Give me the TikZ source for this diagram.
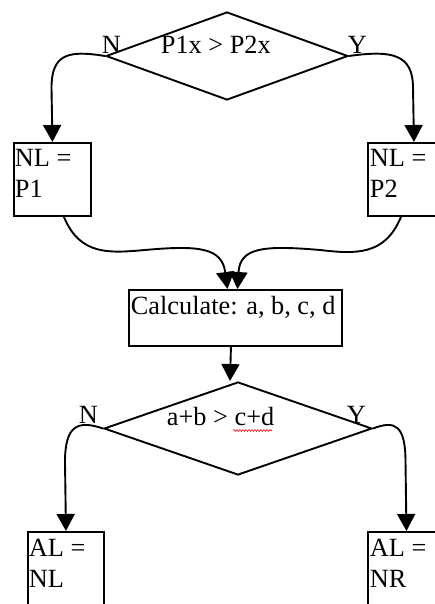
\documentclass[tikz,border=0pt]{standalone}
\usepackage{fontspec}
\setmainfont{Liberation Serif}
\usetikzlibrary{arrows.meta,shapes.geometric,decorations.pathmorphing}
\begin{document}
\begin{tikzpicture}[x=1pt,y=-1pt,
  line width=1.9pt,
  txt/.style={font=\fontsize{26.3}{31}\selectfont, inner sep=0pt, align=left},
  decision/.style={diamond, draw, inner sep=0pt},
  procbox/.style={rectangle, draw, inner sep=0pt, anchor=north west},
  arr/.style={-{Triangle[length=17pt,width=18pt]}},
  spell/.style={red, line width=0.6pt, decorate,
    decoration={snake, amplitude=0.9pt, segment length=3pt}}
]
\useasboundingbox (0,0) rectangle (435,604);
\clip (0,0) rectangle (435,604);

% first decision
\node[decision, minimum width=242pt, minimum height=88pt] (d1) at (227,56) {};
\node[txt, anchor=base west] (q1) at (160,54) {P1x > P2x};
\node[txt, anchor=base west] (n1) at (101,54) {N};
\node[txt, anchor=base west] (y1) at (347,54) {Y};

% NL assignments
\node[procbox, minimum width=77pt, minimum height=73pt] (b1) at (13,142) {};
\node[txt, anchor=north west] (t1) at (14,148.5) {NL =\\P1};
\node[procbox, minimum width=92pt, minimum height=73pt] (b2) at (367,142) {};
\node[txt, anchor=north west] (t2) at (369,148.5) {NL =\\P2};

% calculation step
\node[procbox, minimum width=213pt, minimum height=56pt] (calc) at (128,289) {};
\node[txt, anchor=north west] (tc) at (130,295) {Calculate: a, b, c, d};

% second decision
\node[decision, minimum width=268pt, minimum height=93pt] (d2) at (238,428.5) {};
\node[txt, anchor=base west] (q2) at (166,425) {a+b > c+d};
\node[txt, anchor=base west] (n2) at (78,423) {N};
\node[txt, anchor=base west] (y2) at (346,423) {Y};
\coordinate (w1) at (233,430.5);
\coordinate (w2) at (272,430.5);
\draw[spell] (w1) -- (w2);

% AL assignments
\node[procbox, minimum width=76pt, minimum height=90pt] (b3) at (27,531) {};
\node[txt, anchor=north west] (t3) at (28,538.5) {AL =\\NL};
\node[procbox, minimum width=77pt, minimum height=90pt] (b4) at (367,531) {};
\node[txt, anchor=north west] (t4) at (369,538.5) {AL =\\NR};

% connectors
\draw[arr] (d1.west) .. controls (68,50) and (51.5,54) .. (51.5,88) -- (b1.north);
\draw[arr] (d1.east) .. controls (392,50) and (413,54) .. (413,88) -- (b2.north);

\draw[arr] ([xshift=11.5pt]b1.south) .. controls (80,256) and (110,253) .. (145,250)
  .. controls (200,245) and (222,248) .. ([xshift=-8pt]calc.north);
\draw[arr] ([xshift=-13pt]b2.south) .. controls (385,256) and (355,254) .. (320,250)
  .. controls (262,245) and (240,248) .. ([xshift=2pt]calc.north);

\draw[arr] ([xshift=-4.5pt]calc.south) -- ([xshift=-8pt]d2.north);

\draw[arr] (d2.west) .. controls (78,420) and (65,425) .. (65,462) -- (b3.north);
\draw[arr] (d2.east) .. controls (395,420) and (405.5,425) .. (405.5,462) -- (b4.north);
\end{tikzpicture}
\end{document}
